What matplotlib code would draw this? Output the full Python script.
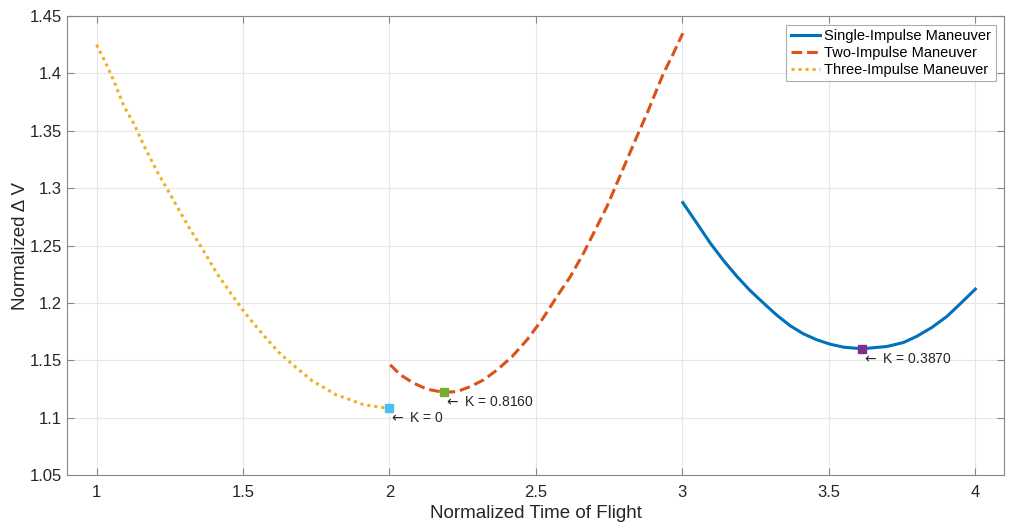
import matplotlib
matplotlib.use("Agg")
import matplotlib.pyplot as plt

# three-impulse maneuver
three_tof = [1.0, 1.031, 1.06, 1.093, 1.13, 1.159, 1.207, 1.235, 1.27,
             1.315, 1.341, 1.378, 1.412, 1.465, 1.506, 1.543, 1.583, 1.622,
             1.664, 1.702, 1.737, 1.776, 1.817, 1.861, 1.903, 1.935, 1.972,
             2.0]
three_dv = [1.425, 1.4093, 1.393, 1.3716, 1.355, 1.3385, 1.3144, 1.302,
            1.2862, 1.266, 1.2555, 1.240, 1.2253, 1.206, 1.1915, 1.180,
            1.168, 1.157, 1.1475, 1.1393, 1.132, 1.1262, 1.120, 1.1161,
            1.112, 1.1103, 1.109, 1.108]

# two-impulse maneuver
two_tof = [2.003, 2.0375, 2.083, 2.1286, 2.185, 2.231, 2.276, 2.322, 2.368,
           2.419, 2.47, 2.521, 2.572, 2.618, 2.663, 2.703, 2.743, 2.777,
           2.811, 2.845, 2.880, 2.908, 2.936, 2.970, 3.002]
two_dv = [1.146, 1.1373, 1.130, 1.1248, 1.122, 1.1227, 1.127, 1.1329,
          1.1416, 1.1532, 1.1678, 1.1852, 1.2055, 1.2229, 1.2433, 1.2636,
          1.284, 1.3043, 1.3246, 1.3449, 1.3652, 1.3827, 1.400, 1.4175,
          1.435]

# single-impulse maneuver
single_tof = [3.002, 3.050, 3.096, 3.141, 3.187, 3.232, 3.278, 3.323, 3.369,
              3.414, 3.46, 3.505, 3.551, 3.614, 3.699, 3.755, 3.80, 3.852,
              3.903, 3.949, 4.001]
single_dv = [1.2874, 1.2694, 1.252, 1.2369, 1.223, 1.2107, 1.1997, 1.1893,
             1.180, 1.173, 1.1678, 1.164, 1.1614, 1.160, 1.162, 1.1654,
             1.1707, 1.1785, 1.188, 1.1991, 1.212]

# optimum points
opt_tof = [3.614, 2.185, 2.0]
opt_dv = [1.160, 1.122, 1.108]
opt_labels = ["K = 0.3870", "K = 0.8160", "K = 0"]
opt_colors = ["#7E2F8E", "#77AC30", "#4DBEEE"]

plt.rcParams["font.family"] = ["Liberation Sans", "DejaVu Sans"]

fig = plt.figure(figsize=(10.10, 5.27), dpi=100)
ax = fig.add_axes([0.0666, 0.0987, 0.9278, 0.8709])

ax.plot(single_tof, single_dv, color="#0072BD", lw=2.2,
        solid_joinstyle="round", label="Single-Impulse Maneuver")
ax.plot(two_tof, two_dv, color="#D95319", lw=2.2, ls=(0, (3.5, 1.6)),
        dash_joinstyle="round", label="Two-Impulse Maneuver")
ax.plot(three_tof, three_dv, color="#EDB120", lw=2.2, ls=(0, (1, 1.3)),
        label="Three-Impulse Maneuver")

for x, y, lab, c in zip(opt_tof, opt_dv, opt_labels, opt_colors):
    ax.plot(x, y, marker="s", ms=6, color=c, mec=c, mew=1, zorder=5)
    ax.annotate(r"$\leftarrow$ " + lab, (x, y), xytext=(0, -10),
                textcoords="offset pixels", ha="left", va="center",
                fontsize=10, color="#262626")

ax.set_xlim(0.9, 4.1)
ax.set_ylim(1.05, 1.45)
ax.set_xticks([1, 1.5, 2, 2.5, 3, 3.5, 4])
ax.set_xticklabels(["1", "1.5", "2", "2.5", "3", "3.5", "4"])
ax.set_yticks([1.05, 1.1, 1.15, 1.2, 1.25, 1.3, 1.35, 1.4, 1.45])
ax.set_yticklabels(["1.05", "1.1", "1.15", "1.2", "1.25", "1.3", "1.35",
                    "1.4", "1.45"])
ax.grid(True, color="#e6e6e6", lw=0.8)
ax.set_axisbelow(True)
ax.tick_params(direction="in", length=5, width=0.8, colors="#888888",
               labelcolor="#262626", labelsize=12, top=True, right=True)
ax.tick_params(axis="x", pad=7)
ax.tick_params(axis="y", pad=4)
for s in ax.spines.values():
    s.set_color("#888888")
    s.set_linewidth(0.8)

ax.set_xlabel("Normalized Time of Flight", fontsize=13.5, color="#262626",
              labelpad=4)
ax.set_ylabel("Normalized \u0394 V", fontsize=13.5, color="#262626",
              labelpad=0)

leg = ax.legend(loc="upper right", fontsize=10.5, fancybox=False,
                handlelength=2.0, borderpad=0.3, labelspacing=0.2,
                handletextpad=0.3, borderaxespad=0.6)
leg.get_frame().set_edgecolor("#999999")
leg.get_frame().set_linewidth(0.8)

fig.savefig("out.png", dpi=100)
